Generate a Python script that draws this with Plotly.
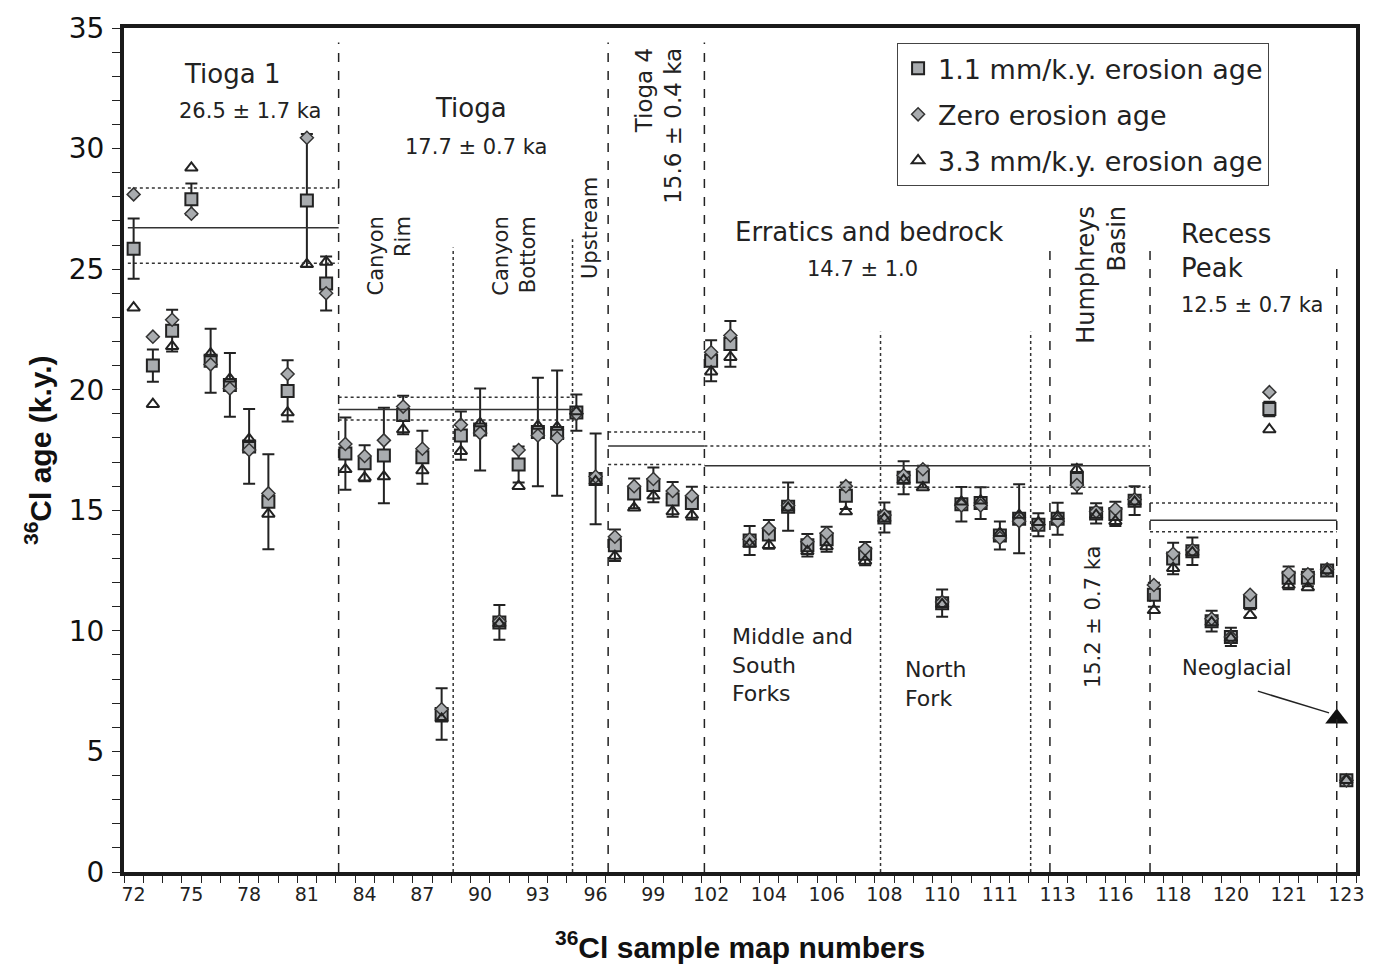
import plotly.graph_objects as go

# ---------------- data ----------------
tick_labels = ["72", "75", "78", "81", "84", "87", "90", "93", "96", "99", "102",
               "104", "106", "108", "110", "111", "113", "116", "118", "120", "121", "123"]

age_1_1mm = [25.85, 21.0, 22.45, 27.9, 21.2, 20.2, 17.65, 15.35, 19.95, 27.85, 24.4,
             17.35, 16.95, 17.27, 18.95, 17.2, 6.55, 18.1, 18.35, 10.35, 16.9, 18.25, 18.2,
             19.05, 16.3,
             13.55, 15.7, 16.05, 15.45, 15.3,
             21.2, 21.9, 13.75, 14.0, 15.15, 13.55, 13.8, 15.6, 13.2, 14.7, 16.35, 16.4,
             11.15, 15.25, 15.3, 13.95, 14.65, 14.4,
             14.65, 16.3, 14.87, 14.85, 15.4,
             11.5, 13.0, 13.3, 10.4, 9.75, 11.2, 19.2, 12.2, 12.2, 12.5, 3.8]

age_zero = [28.1, 22.2, 22.9, 27.3, 21.05, 20.05, 17.5, 15.7, 20.65, 30.45, 24.0,
            17.75, 17.25, 17.9, 19.3, 17.55, 6.75, 18.55, 18.2, 10.4, 17.5, 18.1, 18.0,
            19.0, 16.4,
            13.9, 16.0, 16.3, 15.8, 15.6,
            21.55, 22.25, 13.8, 14.25, 15.2, 13.7, 14.05, 16.0, 13.4, 14.8, 16.45, 16.7,
            11.2, 15.2, 15.2, 13.85, 14.55, 14.4,
            14.55, 16.05, 14.95, 15.05, 15.45,
            11.9, 13.2, 13.35, 10.5, 9.75, 11.5, 19.9, 12.4, 12.35, 12.55, 3.8]

age_3_3mm = [23.4, 19.4, 21.8, 29.2, 21.5, 20.45, 17.95, 14.85, 19.05, 25.2, 25.3,
             16.7, 16.35, 16.4, 18.35, 16.65, 6.35, 17.45, 18.6, 10.3, 16.0, 18.5, 18.45,
             19.1, 16.2,
             13.1, 15.1, 15.6, 14.95, 14.8,
             20.75, 21.35, 13.6, 13.55, 15.1, 13.3, 13.5, 14.95, 12.9, 14.65, 16.25, 15.95,
             11.1, 15.35, 15.4, 14.05, 14.8, 14.5,
             14.75, 16.7, 14.8, 14.55, 15.35,
             10.85, 12.6, 13.25, 10.35, 9.7, 10.65, 18.35, 11.9, 11.8, 12.5, 3.8]

age_error = [1.25, 0.67, 0.87, 0.65, 1.33, 1.32, 1.55, 1.97, 1.27, 2.75, 1.12,
             1.5, 0.75, 1.98, 0.8, 1.1, 1.07, 1.0, 1.7, 0.72, 0.75, 2.25, 2.6,
             0.75, 1.88,
             0.65, 0.62, 0.72, 0.72, 0.68,
             0.85, 0.95, 0.6, 0.6, 1.0, 0.47, 0.52, 0.55, 0.48, 0.62, 0.68, 0.45,
             0.56, 0.72, 0.66, 0.58, 1.43, 0.48,
             0.66, 0.6, 0.42, 0.5, 0.6,
             0.5, 0.65, 0.57, 0.43, 0.38, 0.3, 0.3, 0.47, 0.35, 0.2, 0.15]

# group mean-age bands (mean, upper, lower) and their x extents in sample-index units
group_start = [-0.3, 10.65, 24.65, 29.65, 52.8]
group_end = [10.65, 22.9, 29.65, 52.8, 62.5]
group_mean = [26.72, 19.18, 17.67, 16.85, 14.59]
group_upper = [28.36, 19.69, 18.25, 17.67, 15.3]
group_lower = [25.24, 18.74, 16.9, 15.96, 14.11]

# group dividers (x position, top value)
dashed_x = [10.65, 24.65, 29.65, 47.6, 52.8, 62.5]
dashed_top = [34.4, 34.4, 34.4, 25.76, 25.76, 25.28]
dotted_x = [16.6, 22.8, 38.8, 46.6]
dotted_top = [25.9, 26.24, 22.4, 22.4]

neoglacial_x = [62.5]
neoglacial_age = [6.37]

# ---------------- figure ----------------
n = len(age_1_1mm)
xs = list(range(n))
DARK = "#222222"
GRAY = "#a9acaf"
FONT = "DejaVu Sans"
TITLE_FONT = "Liberation Sans Narrow, Liberation Sans, Arial"

fig = go.Figure()

# error bars (drawn beneath markers)
fig.add_trace(go.Scatter(
    x=xs, y=age_1_1mm, mode="markers", showlegend=False, hoverinfo="skip",
    marker=dict(size=1, color="rgba(0,0,0,0)"),
    error_y=dict(type="data", array=age_error, visible=True, color=DARK,
                 thickness=2, width=6)))

fig.add_trace(go.Scatter(
    x=xs, y=age_1_1mm, mode="markers", name="1.1 mm/k.y. erosion age",
    legendgroup="a",
    marker=dict(symbol="square", size=12, color=GRAY, line=dict(color=DARK, width=2))))

fig.add_trace(go.Scatter(
    x=xs, y=age_zero, mode="markers", name="Zero erosion age",
    legendgroup="b",
    marker=dict(symbol="diamond", size=10, color=GRAY, line=dict(color="#333333", width=1.5))))

fig.add_trace(go.Scatter(
    x=xs, y=age_3_3mm, mode="markers", name="3.3 mm/k.y. erosion age",
    legendgroup="c",
    marker=dict(symbol="triangle-up-open", size=11, color=DARK, line=dict(color=DARK, width=2))))

fig.add_trace(go.Scatter(
    x=neoglacial_x, y=neoglacial_age, mode="markers", showlegend=False, hoverinfo="skip",
    marker=dict(symbol="triangle-up", size=20, color="#111111")))

shapes = []
for x0, x1, m, hi, lo in zip(group_start, group_end, group_mean, group_upper, group_lower):
    shapes.append(dict(type="line", xref="x", yref="y", x0=x0, x1=x1, y0=m, y1=m,
                       line=dict(color="#333333", width=1.5)))
    for v in (hi, lo):
        shapes.append(dict(type="line", xref="x", yref="y", x0=x0, x1=x1, y0=v, y1=v,
                           line=dict(color="#333333", width=1.5, dash="dot")))
for x, top in zip(dashed_x, dashed_top):
    shapes.append(dict(type="line", xref="x", yref="y", x0=x, x1=x, y0=0, y1=top,
                       line=dict(color=DARK, width=1.5, dash="dash")))
for x, top in zip(dotted_x, dotted_top):
    shapes.append(dict(type="line", xref="x", yref="y", x0=x, x1=x, y0=0, y1=top,
                       line=dict(color="#333333", width=1.5, dash="dot")))
# Neoglacial pointer
shapes.append(dict(type="line", xref="x", yref="y", x0=58.4, y0=7.5, x1=62.1, y1=6.6,
                   line=dict(color=DARK, width=1.5)))

def ann(text, x, y, size, angle=0, align="center", xanchor="center"):
    return dict(text=text, x=x, y=y, xref="x", yref="y", showarrow=False,
                font=dict(family=FONT, size=size, color=DARK), textangle=angle,
                align=align, xanchor=xanchor, yanchor="middle")

annotations = [
    ann("Tioga 1", 5.1, 33.1, 26),
    ann("26.5 ± 1.7 ka", 6.05, 31.55, 21),
    ann("Tioga", 17.55, 31.7, 26),
    ann("17.7 ± 0.7 ka", 17.8, 30.07, 21),
    ann("Canyon<br>Rim", 13.3, 25.55, 21, angle=-90, align="right"),
    ann("Canyon<br>Bottom", 19.8, 25.55, 21, angle=-90, align="right"),
    ann("Upstream", 23.7, 26.7, 21, angle=-90),
    ann("Tioga 4<br>15.6 ± 0.4 ka", 27.25, 30.95, 23, angle=-90, align="right"),
    ann("Erratics and bedrock", 38.2, 26.53, 26),
    ann("14.7 ± 1.0", 37.85, 25.0, 21),
    ann("Humphreys<br>Basin", 50.3, 24.76, 24, angle=-90, align="right"),
    ann("15.2 ± 0.7 ka", 49.85, 10.58, 21, angle=-90),
    ann("Recess<br>Peak", 54.3, 25.75, 26, align="left", xanchor="left"),
    ann("12.5 ± 0.7 ka", 54.3, 23.5, 21, align="left", xanchor="left"),
    ann("Middle and<br>South<br>Forks", 31.0, 8.58, 22, align="left", xanchor="left"),
    ann("North<br>Fork", 39.95, 7.8, 22, align="left", xanchor="left"),
    ann("Neoglacial", 57.3, 8.45, 21),
    dict(text="<b><sup>36</sup>Cl age (k.y.)</b>", x=-0.0698, y=0.5, xref="paper", yref="paper",
         showarrow=False, textangle=-90, xanchor="center", yanchor="middle",
         font=dict(family=TITLE_FONT, size=30, color="#111")),
    dict(text="<b><sup>36</sup>Cl sample map numbers</b>", x=0.5, y=-0.087, xref="paper",
         yref="paper", showarrow=False, xanchor="center", yanchor="middle",
         font=dict(family=TITLE_FONT, size=30, color="#111")),
]

fig.update_layout(
    width=1378, height=965,
    margin=dict(l=124, r=22, t=20, b=93),
    paper_bgcolor="white", plot_bgcolor="white",
    shapes=shapes, annotations=annotations,
    showlegend=True,
    legend=dict(x=0.6275, y=0.982, xanchor="left", yanchor="top",
                bgcolor="white", bordercolor="#444444", borderwidth=1,
                font=dict(family=FONT, size=27, color=DARK),
                traceorder="grouped", tracegroupgap=8, itemwidth=30),
    xaxis=dict(range=[-0.5, n - 0.5], tickmode="array",
               tickvals=list(range(0, n, 3)), ticktext=tick_labels,
               ticks="outside", ticklen=0, ticklabelstandoff=2,
               tickfont=dict(family=FONT, size=19, color=DARK),
               showline=True, linewidth=4, linecolor="#1a1a1a", mirror=True,
               showgrid=False, zeroline=False,
               minor=dict(tickmode="linear", tick0=-0.5, dtick=1, ticks="outside",
                          ticklen=7, tickwidth=1.2, tickcolor=DARK, showgrid=False)),
    yaxis=dict(range=[0, 35], tickmode="linear", tick0=0, dtick=5,
               ticks="outside", ticklen=8, tickwidth=1.2, tickcolor=DARK,
               tickfont=dict(family=FONT, size=28, color="#111"), ticklabelstandoff=2,
               showline=True, linewidth=4, linecolor="#1a1a1a", mirror=True,
               showgrid=False, zeroline=False,
               minor=dict(dtick=1, ticks="outside", ticklen=8, tickwidth=1.2,
                          tickcolor=DARK, showgrid=False)),
    yaxis2=dict(range=[0, 35], overlaying="y", side="left", tickmode="linear", tick0=0,
                dtick=5, ticks="inside", ticklen=8, tickwidth=1.2, tickcolor=DARK,
                showticklabels=False, showgrid=False, zeroline=False, showline=False),
)

fig.write_html("out.html")
